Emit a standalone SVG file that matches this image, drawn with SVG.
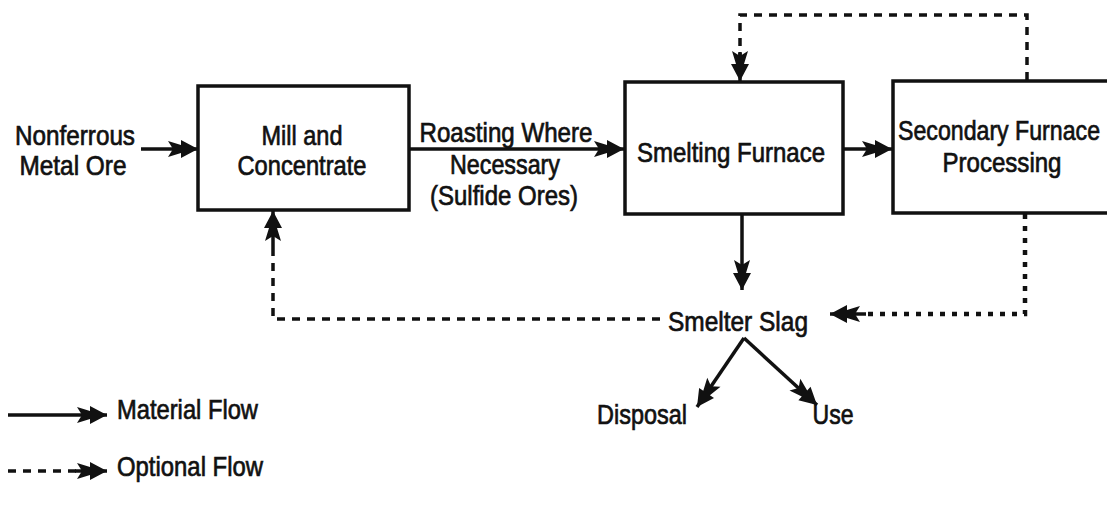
<svg xmlns="http://www.w3.org/2000/svg" width="1107" height="506" viewBox="0 0 1107 506">
<style>
text{font-family:"Liberation Sans Narrow","Liberation Sans",Arial,sans-serif;font-size:28px;fill:#111;stroke:#111;stroke-width:0.7}
.box{fill:#fff;stroke:#111;stroke-width:3.5}
.solid{fill:none;stroke:#111;stroke-width:3.5;marker-end:url(#ah)}
.dash{fill:none;stroke:#111;stroke-width:3.5;stroke-dasharray:8 7}
.dot{fill:none;stroke:#111;stroke-width:4.5;stroke-dasharray:5 7}
</style>
<defs>
<marker id="ah" markerUnits="userSpaceOnUse" markerWidth="34" markerHeight="24" viewBox="-32 -12 34 24" refX="0" refY="0" orient="auto">
<path d="M-30,-8 L-17,-4 L-17,-9 L0,0 L-17,9 L-17,4 L-30,8 L-25,0 Z" fill="#111"/>
</marker>
</defs>
<rect width="1107" height="506" fill="#fff"/>
<g id="connectors">
<path class="solid" d="M141,149 L198,149"/>
<path class="solid" d="M409,149 L624,149"/>
<path class="solid" d="M843,149 L892,149"/>
<path class="solid" d="M742,215 L742,290"/>
<path class="dash" d="M1027,80 L1027,15 L740,15 L740,60"/>
<path class="solid" d="M740,52 L740,81" style="stroke-dasharray:none"/>
<path class="dot" d="M1025,214 L1025,314 L862,314"/>
<path class="solid" d="M866,314 L830,314"/>
<path class="dash" d="M660,319 L273,319 L273,245"/>
<path class="solid" d="M273,248 L273,211"/>
<path class="solid" d="M744,338 L697,407"/>
<path class="solid" d="M744,338 L817,405"/>
</g>
<g id="mill"><rect class="box" x="198" y="86" width="211" height="124"/>
<text x="302" y="145" text-anchor="middle" textLength="81" lengthAdjust="spacingAndGlyphs">Mill and</text>
<text x="302" y="175" text-anchor="middle" textLength="129" lengthAdjust="spacingAndGlyphs">Concentrate</text></g>
<g id="smelting"><rect class="box" x="625" y="82" width="218" height="132"/>
<text x="731" y="162" text-anchor="middle" textLength="188" lengthAdjust="spacingAndGlyphs">Smelting Furnace</text></g>
<g id="secondary"><rect class="box" x="893" y="81" width="230" height="132"/>
<text x="999" y="140" text-anchor="middle" textLength="202" lengthAdjust="spacingAndGlyphs">Secondary Furnace</text>
<text x="1002" y="172" text-anchor="middle" textLength="119" lengthAdjust="spacingAndGlyphs">Processing</text></g>
<g id="ore"><text x="75" y="145" text-anchor="middle" textLength="120" lengthAdjust="spacingAndGlyphs">Nonferrous</text>
<text x="73" y="175" text-anchor="middle" textLength="107" lengthAdjust="spacingAndGlyphs">Metal Ore</text></g>
<g id="roasting"><text x="506" y="142" text-anchor="middle" textLength="173" lengthAdjust="spacingAndGlyphs">Roasting Where</text>
<text x="505" y="174" text-anchor="middle" textLength="110" lengthAdjust="spacingAndGlyphs">Necessary</text>
<text x="504" y="205" text-anchor="middle" textLength="148" lengthAdjust="spacingAndGlyphs">(Sulfide Ores)</text></g>
<g id="slag"><text x="738" y="331" text-anchor="middle" textLength="140" lengthAdjust="spacingAndGlyphs">Smelter Slag</text></g>
<g id="disposal"><text x="642" y="424" text-anchor="middle" textLength="90" lengthAdjust="spacingAndGlyphs">Disposal</text></g>
<g id="use"><text x="833" y="424" text-anchor="middle" textLength="41" lengthAdjust="spacingAndGlyphs">Use</text></g>
<g id="legend">
<path class="solid" d="M8,415 L107,415"/>
<text x="117" y="419" textLength="141" lengthAdjust="spacingAndGlyphs">Material Flow</text>
<path class="dash" d="M8,471 L82,471"/>
<path class="solid" d="M75,471 L107,471"/>
<text x="117" y="476" textLength="146" lengthAdjust="spacingAndGlyphs">Optional Flow</text>
</g>
</svg>
